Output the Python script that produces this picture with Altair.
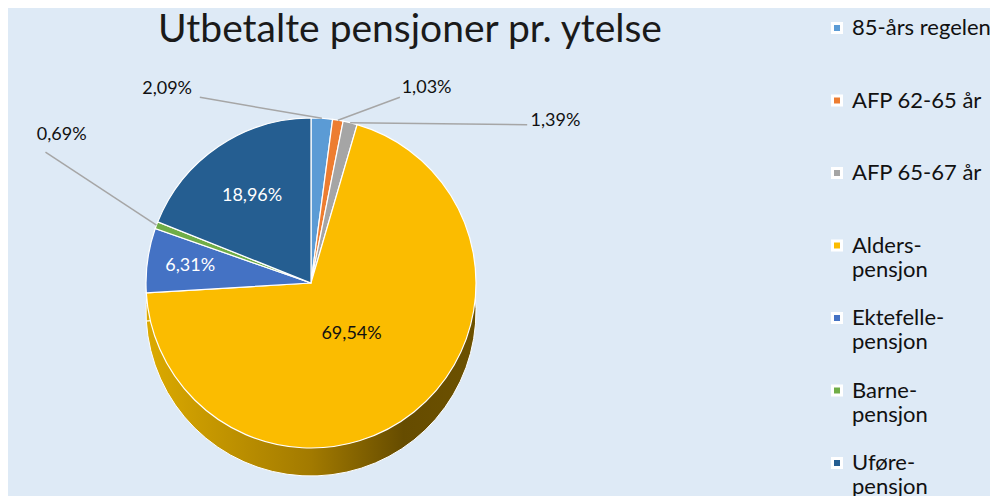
import altair as alt
import pandas as pd

# ---- data ----
series = ["85-års regelen", "AFP 62-65 år", "AFP 65-67 år", "Alders-|pensjon",
          "Ektefelle-|pensjon", "Barne-|pensjon", "Uføre-|pensjon"]
values = [2.09, 1.03, 1.39, 69.54, 6.31, 0.69, 18.96]
colors = ["#5B9BD5", "#ED7D31", "#A5A5A5", "#FBBC00", "#4472C4", "#70AD47", "#255E91"]

df = pd.DataFrame({"serie": series, "value": values, "idx": list(range(len(series)))})

CX, CY, R, DEPTH = 303, 225, 165, 28
FONT = "Lato"
BG = "#DEEAF6"

# pseudo-3D side of the pie (same slices, shifted down, shaded)
side = alt.Chart(df).mark_arc(
    radius=R, stroke="white", strokeWidth=1,
    fill=alt.Gradient(
        gradient="linear", x1=0, x2=1, y1=0, y2=0,
        stops=[
            alt.GradientStop(color="#DCAA00", offset=0),
            alt.GradientStop(color="#A27A00", offset=0.5),
            alt.GradientStop(color="#664C00", offset=0.78),
            alt.GradientStop(color="#6C5100", offset=1),
        ],
    ),
).encode(
    theta=alt.Theta("value:Q", stack=True),
    order=alt.Order("idx:Q"),
    x=alt.value(CX),
    y=alt.value(CY + DEPTH),
)

pie = alt.Chart(df).mark_arc(radius=R, stroke="white", strokeWidth=1.2).encode(
    theta=alt.Theta("value:Q", stack=True),
    color=alt.Color(
        "serie:N",
        sort=series,
        scale=alt.Scale(domain=series, range=colors),
        legend=alt.Legend(
            title=None, orient="none", legendX=818, legendY=-41,
            symbolType="square", symbolSize=81, symbolStrokeColor="white",
            symbolStrokeWidth=3, labelFont=FONT, labelFontSize=22,
            labelColor="#111111", labelLimit=300,
            labelExpr="split(datum.label, '|')", gridAlign="all",
            rowPadding=26.5, labelOffset=4,
        ),
    ),
    order=alt.Order("idx:Q"),
    x=alt.value(CX),
    y=alt.value(CY),
)

base = alt.Chart(df).transform_window(
    cum="sum(value)", sort=[alt.SortField("idx")]
).transform_joinaggregate(total="sum(value)").transform_calculate(
    mid="2*PI*(datum.cum - datum.value/2)/datum.total",
    label="replace(format(datum.value, '.2f'), '.', ',') + '%'",
    ex=f"{CX} + {R}*sin(datum.mid)",
    ey=f"{CY} - {R}*cos(datum.mid)",
)


def text_layer(name, r, dx=0, dy=0, color="#111111"):
    return base.transform_filter(alt.datum.serie == name).mark_text(
        radius=r, dx=dx, dy=dy, font=FONT, fontSize=18, color=color,
        align="center", baseline="middle",
    ).encode(
        theta=alt.Theta("mid:Q", scale=None),
        text="label:N",
        x=alt.value(CX),
        y=alt.value(CY),
    )


def leader(name, ldx, ldy):
    return base.transform_filter(alt.datum.serie == name).transform_calculate(
        lx=f"datum.ex + ({ldx})", ly=f"datum.ey + ({ldy})"
    ).mark_rule(color="#A6A6A6", strokeWidth=1.5).encode(
        x=alt.X("ex:Q", scale=None), y=alt.Y("ey:Q", scale=None),
        x2="lx:Q", y2="ly:Q",
    )


layers = [
    side,
    pie,
    leader(series[0], -122, -21),
    leader(series[1], 62, -23),
    leader(series[2], 177, 2),
    leader(series[5], -111, -73),
    text_layer(series[0], 200, -157, 6),
    text_layer(series[1], 200, 83, 2),
    text_layer(series[2], 200, 197, 32),
    text_layer(series[5], 200, -62, -78),
    text_layer(series[6], 105, 0, 0, "white"),
    text_layer(series[4], 122, 0, 0, "white"),
    text_layer(series[3], 65, 0, 0, "#111111"),
]

chart = alt.layer(*layers).properties(
    width=982, height=438,
    padding={"left": 0, "top": 50, "right": 0, "bottom": 0},
    autosize=alt.AutoSizeParams(type="none"),
    background=BG,
    title=alt.TitleParams(
        "Utbetalte pensjoner pr. ytelse", font=FONT, fontSize=39,
        fontWeight="normal", color="#1a1a1a", anchor="middle", dx=-89,
        dy=41, offset=8, frame="group",
    ),
).configure_view(stroke=None)

chart.save("out.html", embed_options={"renderer": "svg", "actions": False})
